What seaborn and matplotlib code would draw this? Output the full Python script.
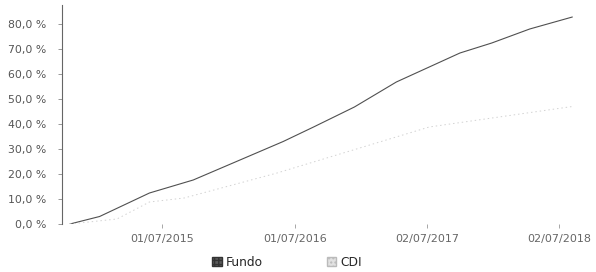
import matplotlib
matplotlib.use("Agg")
import matplotlib.pyplot as plt
from matplotlib.patches import Patch
from matplotlib.ticker import FuncFormatter
import seaborn as sns
import pandas as pd

fundo_dates = ["2014-10-18", "2015-01-08", "2015-05-26", "2015-09-24", "2016-01-12",
               "2016-05-30", "2016-08-22", "2016-12-13", "2017-04-08", "2017-10-01",
               "2017-12-28", "2018-04-12", "2018-08-08"]
fundo_values = [0.0, 3.0, 12.4, 17.6, 24.4, 33.0, 38.8, 46.8, 56.8, 68.4, 72.4, 78.0, 82.8]

cdi_dates = ["2014-10-18", "2015-02-25", "2015-05-26", "2015-08-30", "2016-05-13",
             "2017-07-08", "2018-08-08"]
cdi_values = [0.0, 2.0, 8.8, 10.4, 20.4, 38.8, 47.0]

tick_dates = ["2015-07-01", "2016-07-01", "2017-07-02", "2018-07-02"]
tick_labels = ["01/07/2015", "01/07/2016", "02/07/2017", "02/07/2018"]
y_ticks = [0, 10, 20, 30, 40, 50, 60, 70, 80]

df = pd.concat([
    pd.DataFrame({"data": pd.to_datetime(fundo_dates), "valor": fundo_values, "serie": "Fundo"}),
    pd.DataFrame({"data": pd.to_datetime(cdi_dates), "valor": cdi_values, "serie": "CDI"}),
])

sns.set_theme(style="white")
plt.rcParams["font.family"] = ["DejaVu Sans"]

fig = plt.figure(figsize=(5.96, 2.72), dpi=100)
ax = fig.add_axes([62 / 596, 1 - 224 / 272, (585 - 62) / 596, (224 - 5) / 272])

palette = {"Fundo": "#505050", "CDI": "#d2d2d2"}
sns.lineplot(data=df, x="data", y="valor", hue="serie", palette=palette, ax=ax,
             legend=False, linewidth=0.8)
ax.lines[1].set_linestyle((0, (1.5, 3)))
ax.lines[1].set_linewidth(0.7)

ax.set_xlim(pd.Timestamp("2014-09-26"), pd.Timestamp("2018-09-12"))
ax.set_ylim(0, 87.6)
ax.set_yticks(y_ticks)
ax.yaxis.set_major_formatter(FuncFormatter(lambda v, p: f"{v:.1f}".replace(".", ",") + " %"))
ax.set_xticks(pd.to_datetime(tick_dates))
ax.set_xticklabels(tick_labels)
ax.set_xlabel("")
ax.set_ylabel("")

for s in ["top", "right", "bottom"]:
    ax.spines[s].set_visible(False)
ax.spines["left"].set_color("#666666")
ax.spines["left"].set_linewidth(0.8)
ax.tick_params(axis="y", length=3, width=0.6, color="#888888", labelsize=7.8,
               labelcolor="#555555", pad=8, left=True)
ax.tick_params(axis="x", length=3, width=0.6, color="#999999", labelsize=8,
               labelcolor="#666666", pad=4, bottom=True)

handles = [Patch(facecolor="#5a5a5a", edgecolor="#333333", hatch="++++", label="Fundo"),
           Patch(facecolor="#e2e2e2", edgecolor="#bbbbbb", hatch="....", label="CDI")]
fig.legend(handles=handles, loc="center", bbox_to_anchor=(287 / 596, 1 - 262 / 272),
           ncol=2, frameon=False, fontsize=8.8, handlelength=0.8, handleheight=0.8,
           handletextpad=0.3, columnspacing=5.2)

fig.savefig("out.png", dpi=100)
